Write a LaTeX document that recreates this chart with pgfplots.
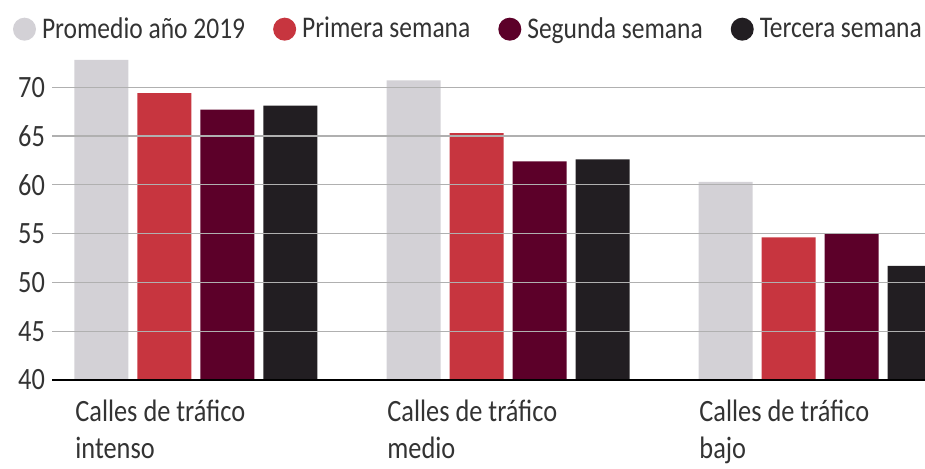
\documentclass[border=0pt]{standalone}
\usepackage{fontspec}
\setmainfont{Carlito}[FakeStretch=0.85]
\usepackage{pgfplots}
\pgfplotsset{compat=1.18}
\definecolor{cgray}{HTML}{D3D1D6}
\definecolor{cred}{HTML}{C7353F}
\definecolor{cmaroon}{HTML}{5C0029}
\definecolor{cblack}{HTML}{221E22}
\definecolor{cgrid}{HTML}{B0B0B0}
\definecolor{ctext}{HTML}{333333}
\begin{document}
\begin{tikzpicture}
\path[use as bounding box] (0,0) rectangle (462.5pt,234pt);
\begin{axis}[
  at={(26pt,44pt)}, anchor=south west,
  scale only axis, width=436.5pt, height=163.5pt,
  xmin=-0.4615, xmax=2.3365, ymin=40, ymax=73.5,
  ybar=4.5pt, bar width=27pt,
  axis on top,
  axis x line*=bottom, axis y line*=left,
  y axis line style={draw=none},
  x axis line style={-, black, line width=1pt},
  major tick length=0pt,
  xtick={0,1,2},
  xticklabels={{Calles de tráfico\\intenso},{Calles de tráfico\\medio},{Calles de tráfico\\bajo}},
  xticklabel style={anchor=north west, align=left, inner sep=0pt, xshift=-60.5pt, yshift=-10pt,
    font=\fontsize{15.5}{18.5}\selectfont, text=ctext},
  ytick={40,45,...,70},
  yticklabel style={font=\fontsize{15.5}{18.5}\selectfont, text=ctext},
  /pgf/number format/assume math mode=true,
  ymajorgrids, grid style={cgrid, line width=0.6pt},
  legend columns=4,
  legend style={draw=none, fill=none, at={(-0.052,1.135)}, anchor=north west,
    font=\fontsize{15}{18}\selectfont, text=ctext,
    /tikz/every odd column/.append style={column sep=1pt},
    /tikz/every even column/.append style={column sep=12pt}},
]
\addplot[fill=cgray, draw=none, legend image code/.code={\fill[cgray] (0pt,0pt) circle (5.75pt);}]
  coordinates {(0,72.8) (1,70.7) (2,60.3)};
\addlegendentry{Promedio año 2019}
\addplot[fill=cred, draw=none, legend image code/.code={\fill[cred] (0pt,0pt) circle (5.75pt);}]
  coordinates {(0,69.4) (1,65.3) (2,54.6)};
\addlegendentry{Primera semana}
\addplot[fill=cmaroon, draw=none, legend image code/.code={\fill[cmaroon] (0pt,0pt) circle (5.75pt);}]
  coordinates {(0,67.7) (1,62.4) (2,55.0)};
\addlegendentry{Segunda semana}
\addplot[fill=cblack, draw=none, legend image code/.code={\fill[cblack] (0pt,0pt) circle (5.75pt);}]
  coordinates {(0,68.1) (1,62.6) (2,51.7)};
\addlegendentry{Tercera semana}
\end{axis}
\end{tikzpicture}
\end{document}
